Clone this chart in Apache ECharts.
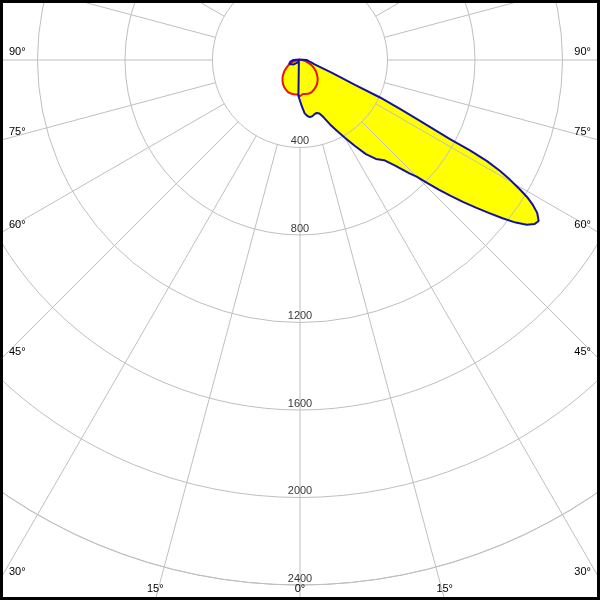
<!DOCTYPE html>
<html><head><meta charset="utf-8">
<script src="https://cdn.jsdelivr.net/npm/echarts@6/dist/echarts.min.js"></script>
<style>html,body{margin:0;padding:0;background:#fff}#c{width:600px;height:600px}</style>
</head><body><div id="c"></div>
<script>
// C0 plane (right side, blue), gamma angles and intensities (cd)
const blueRightAngles = [0,2.5,5,7.5,10,12.5,15,17.5,20,22.5,25,27.5,30,32.5,35,37.5,40,42,44,45,46,47,48,49,50,51,52,53,54,55,56,57.2,58.1,58.9,59.5,60.3,61,61.6,62,62.2,63.1,63.9,64.9,65.6,66.8,67.8,69.2,73.3,77,80,85,90,95,100,110,120,135,150,165,180];
const blueRightValues = [165,215,245,258,265,263,256,254,260,285,325,365,410,465,525,570,598,650,720,754,810,870,930,990,1050,1110,1175,1235,1282,1308,1316,1290,1254,1212,1167,1106,1046,972,880,775,615,509,404,276,207,163,122,72,55,45,38,30,15,8,4,3,2,2,2,2];
// C180 plane (left side, blue)
const blueLeftAngles = [0,2.5,5,10,20,30,40,45,50,55,60,65,70,75,80,85,90,95,100,110,120,135,150,165,180];
const blueLeftValues = [165,165,8,5,4,4,8,12,20,35,50,53,53,50,45,38,30,15,8,4,3,2,2,2,2];
// C90 / C270 planes (red)
const redAngles = [0,5,10,15,20,25,30,35,40,45,50,55,60,65,70,75,80,85,90,100,120,150,180];
const redRightValues = [165,156,158,159,156,150,143,135,125,114,100,88,73,60,45,32,22,14,8,3,2,2,2];
const redLeftValues = [165,158,159,159,157,151,144,135,124,113,99,87,72,60,46,34,24,15,8,3,2,2,2];
// grid
const ringValues = [400,800,1200,1600,2000,2400];
const rayAngles = [-180,-165,-150,-135,-120,-105,-90,-75,-60,-45,-30,-15,0,15,30,45,60,75,90,105,120,135,150,165];
const angleTickValues = [90,75,60,45,30,15,0];
const angleTickLabels = ['90°','75°','60°','45°','30°','15°','0°'];

function buildCurve(leftA, leftV, rightA, rightV) {
  const pts = [];
  for (let i = leftA.length - 1; i >= 1; i--) pts.push([leftV[i], -leftA[i]]);
  for (let i = 0; i < rightA.length; i++) pts.push([rightV[i], rightA[i]]);
  return pts;
}
const bluePts = buildCurve(blueLeftAngles, blueLeftValues, blueRightAngles, blueRightValues);
const redPts = buildCurve(redAngles, redLeftValues, redAngles, redRightValues);
const fillShapes = [bluePts, redPts];

const FONT = '"Liberation Sans", Arial, sans-serif';
const GRID = '#bfbfbf';

const chart = echarts.init(document.getElementById('c'), null, {renderer: 'canvas'});
chart.setOption({
  animation: false,
  backgroundColor: '#ffffff',
  polar: {center: [300, 60], radius: 525},
  radiusAxis: {
    type: 'value', min: 0, max: 2400, interval: 400, z: 3,
    axisLine: {show: false}, axisTick: {show: false}, axisLabel: {show: false},
    splitLine: {show: true, lineStyle: {color: GRID, width: 1}}
  },
  angleAxis: {
    type: 'value', min: -180, max: 180, startAngle: 90, clockwise: false, z: 3,
    axisLine: {show: true, lineStyle: {color: GRID, width: 1}},
    axisTick: {show: false}, axisLabel: {show: false}, splitLine: {show: false}
  },
  series: [
    {
      type: 'custom', coordinateSystem: 'polar', z: 1, silent: true,
      data: fillShapes.map(() => [0, 0]),
      renderItem: (params, api) => ({
        type: 'polygon',
        shape: {points: fillShapes[params.dataIndex].map(p => api.coord(p))},
        style: {fill: '#ffff00', stroke: null}
      })
    },
    {
      type: 'custom', coordinateSystem: 'polar', z: 3, silent: true, clip: false,
      data: rayAngles.map(a => [ringValues[0], a]),
      renderItem: (params, api) => {
        const a = api.value(1);
        const p1 = api.coord([ringValues[0], a]);
        const p2 = api.coord([ringValues[ringValues.length - 1] * 1.4, a]);
        return {type: 'line', shape: {x1: p1[0], y1: p1[1], x2: p2[0], y2: p2[1]},
                style: {stroke: GRID, lineWidth: 1}};
      }
    },
    {
      type: 'line', coordinateSystem: 'polar', z: 5, silent: true,
      data: redPts, showSymbol: false, symbol: 'none',
      lineStyle: {color: '#e81212', width: 2}
    },
    {
      type: 'line', coordinateSystem: 'polar', z: 6, silent: true,
      data: bluePts, showSymbol: false, symbol: 'none',
      lineStyle: {color: '#1212a0', width: 2}
    },
    {
      type: 'scatter', coordinateSystem: 'polar', z: 8, silent: true,
      symbolSize: 0,
      data: ringValues.map(v => [v, 0]),
      label: {show: true, position: 'top', distance: 1, color: '#000',
              fontSize: 11, fontFamily: FONT,
              formatter: p => String(p.value[0])}
    }
  ]
});

// angle labels placed where each ray meets the picture border
const W = 600, H = 600;
const c = chart.convertToPixel({seriesIndex: 2}, [0, 0]);
const texts = [];
angleTickValues.forEach((v, i) => {
  const sides = v === 0 ? [0] : [-v, v];
  sides.forEach(a => {
    const p = chart.convertToPixel({seriesIndex: 2}, [1000, a]);
    const dx = p[0] - c[0], dy = p[1] - c[1];
    const tx = dx < -1e-6 ? (0 - c[0]) / dx : dx > 1e-6 ? (W - c[0]) / dx : Infinity;
    const ty = dy > 1e-6 ? (H - c[1]) / dy : Infinity;
    let x, y, align;
    if (tx < ty) {
      y = c[1] + dy * tx - 2.5;
      x = dx < 0 ? 9 : 591;
      align = dx < 0 ? 'left' : 'right';
    } else {
      x = c[0] + dx * ty;
      y = 594;
      align = 'center';
    }
    texts.push({
      type: 'text', x: x, y: y, z: 50, silent: true,
      style: {text: angleTickLabels[i], font: '11px ' + FONT, fill: '#000',
              align: align, textAlign: align, verticalAlign: 'bottom', textVerticalAlign: 'bottom'}
    });
  });
});
texts.push({
  type: 'rect', z: 100, silent: true,
  shape: {x: 1.5, y: 1.5, width: 597, height: 597},
  style: {fill: 'none', stroke: '#000', lineWidth: 3}
});
chart.setOption({graphic: texts});
</script>
</body></html>
